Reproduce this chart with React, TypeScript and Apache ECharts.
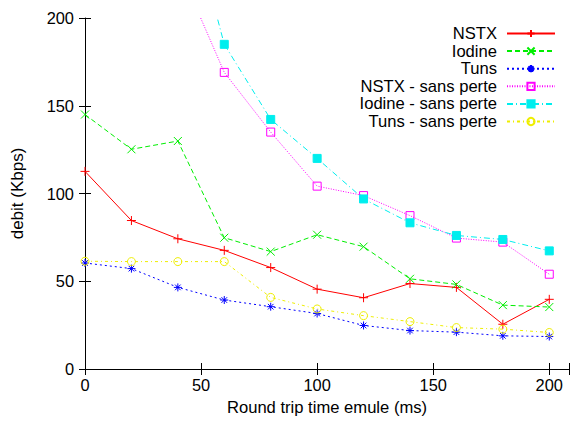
import React, { useEffect, useRef } from "react";
import * as echarts from "echarts";

const xValues = [0, 20, 40, 60, 80, 100, 120, 140, 160, 180, 200];
const nstx = [112.6, 84.6, 74.2, 67.6, 57.8, 45.5, 40.6, 48.7, 46.5, 25.5, 39.7];
const iodine = [145, 125.2, 129.9, 74.8, 66.9, 76.5, 69.7, 51.4, 48.2, 36.4, 35.3];
const tuns = [60.4, 57.2, 46.5, 39.3, 35.5, 31.6, 24.8, 21.9, 21.0, 18.9, 18.5];
const nstxSP = [null, null, 230, 169, 135, 104.2, 98.8, 87.4, 74.6, 72.3, 54];
const iodineSP = [null, null, 285, 185, 142.2, 120, 96.9, 83.3, 76.1, 73.8, 67.3];
const tunsSP = [61.4, 61.2, 61.2, 61.2, 40.8, 34.2, 30.4, 27.0, 23.6, 22.7, 20.8];

const seriesNames = [
  "NSTX",
  "Iodine",
  "Tuns",
  "NSTX - sans perte",
  "Iodine - sans perte",
  "Tuns - sans perte",
];
const xTickLabels = ["0", "50", "100", "150", "200"];
const yTickLabels = ["0", "50", "100", "150", "200"];

const FONT = "Liberation Sans, Arial, Helvetica, sans-serif";

const PLUS = "path://M0,5L10,5M5,0L5,10";
const CROSS = "path://M0,0L10,10M10,0L0,10";
const STAR = "path://M0,5L10,5M5,0L5,10M1.5,1.5L8.5,8.5M8.5,1.5L1.5,8.5";

export default function App() {
  const ref = useRef<HTMLDivElement>(null);
  useEffect(() => {
    if (!ref.current) return;
    const chart = echarts.init(ref.current, undefined, { renderer: "svg" });
    const pairs = (arr: (number | null)[]) => xValues.map((x, i) => [x, arr[i]]);
    const mk = (
      name: string,
      arr: (number | null)[],
      color: string,
      dash: any,
      symbol: string,
      size: number,
      fill: string
    ) => ({
      name,
      type: "line",
      data: pairs(arr),
      symbol,
      symbolSize: size,
      showAllSymbol: true,
      clip: true,
      lineStyle: { color, width: 1, type: dash },
      itemStyle: { color: fill, borderColor: color, borderWidth: 1 },
      emphasis: { disabled: true },
    });
    const axisLabelFmt = (labels: string[]) => (v: number) =>
      labels.includes(String(v)) ? String(v) : "";
    chart.setOption({
      animation: false,
      backgroundColor: "#ffffff",
      textStyle: { fontFamily: FONT },
      grid: { left: 85, right: 0, top: 18, bottom: 50, containLabel: false },
      xAxis: [
        {
          type: "value",
          min: 0,
          max: 208.5,
          interval: 50,
          position: "bottom",
          name: "Round trip time emule (ms)",
          nameLocation: "middle",
          nameGap: 30,
          nameTextStyle: { fontSize: 16.6, color: "#000", fontFamily: FONT },
          axisLine: { show: true, lineStyle: { color: "#000", width: 1 } },
          axisTick: { show: true, inside: true, length: 6, lineStyle: { color: "#000" } },
          axisLabel: {
            fontSize: 16.4,
            color: "#000",
            margin: 8,
            fontFamily: FONT,
            formatter: axisLabelFmt(xTickLabels),
          },
          splitLine: { show: false },
        },
        {
          type: "value",
          min: 0,
          max: 208.5,
          interval: 50,
          position: "top",
          axisLine: { show: true, lineStyle: { color: "#000", width: 1 } },
          axisTick: { show: true, inside: true, length: 6, lineStyle: { color: "#000" } },
          axisLabel: { show: false },
          splitLine: { show: false },
        },
      ],
      yAxis: [
        {
          type: "value",
          min: 0,
          max: 200,
          interval: 50,
          position: "left",
          name: "debit (Kbps)",
          nameLocation: "middle",
          nameGap: 59,
          nameTextStyle: { fontSize: 17, color: "#000", fontFamily: FONT },
          axisLine: { show: true, lineStyle: { color: "#000", width: 1 } },
          axisTick: { show: true, inside: true, length: 6, lineStyle: { color: "#000" } },
          axisLabel: {
            fontSize: 16.4,
            color: "#000",
            margin: 11,
            fontFamily: FONT,
            formatter: axisLabelFmt(yTickLabels),
          },
          splitLine: { show: false },
        },
        {
          type: "value",
          min: 0,
          max: 200,
          interval: 50,
          position: "right",
          axisLine: { show: false },
          axisTick: { show: true, inside: true, length: 6, lineStyle: { color: "#000" } },
          axisLabel: { show: false },
          splitLine: { show: false },
        },
      ],
      legend: {
        orient: "vertical",
        align: "right",
        right: 16,
        top: 25,
        itemWidth: 48,
        itemHeight: 9,
        itemGap: 0.6,
        padding: 0,
        selectedMode: false,
        data: seriesNames,
        textStyle: {
          fontSize: 16.6,
          color: "#000",
          fontFamily: FONT,
          lineHeight: 15,
          padding: [0, 5, 0, 0],
        },
      },
      series: [
        mk(seriesNames[0], nstx, "#ff0000", "solid", PLUS, 9, "#ff0000"),
        mk(seriesNames[1], iodine, "#00ee00", [5, 3], CROSS, 8, "#00ee00"),
        mk(seriesNames[2], tuns, "#0000ff", [2, 3], STAR, 8, "#0000ff"),
        mk(seriesNames[3], nstxSP, "#ff00ff", [1, 1.5], "rect", 8, "none"),
        mk(seriesNames[4], iodineSP, "#00eeee", [6, 3, 1, 3], "rect", 8, "#00eeee"),
        mk(seriesNames[5], tunsSP, "#eeee00", [3, 3, 1, 3], "circle", 8, "none"),
      ],
    });
    return () => chart.dispose();
  }, []);
  return (
    <div
      ref={ref}
      style={{ position: "absolute", left: 0, top: 0, width: 572, height: 421 }}
    />
  );
}
